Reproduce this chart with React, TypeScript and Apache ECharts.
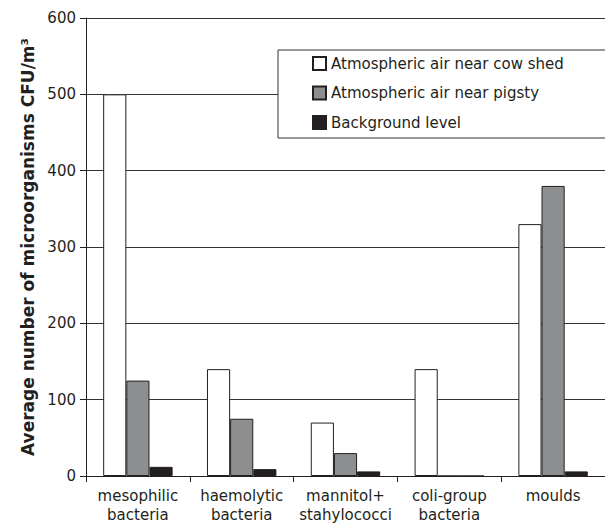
import React, { useEffect, useRef } from "react";
import * as echarts from "echarts";

const categories = [
  "mesophilic\nbacteria",
  "haemolytic\nbacteria",
  "mannitol+\nstahylococci",
  "coli-group\nbacteria",
  "moulds",
];
const cowShed = [500, 140, 70, 140, 330];
const pigsty = [125, 75, 30, 0, 380];
const background = [12, 9, 6, 0, 6];
const seriesNames = [
  "Atmospheric air near cow shed",
  "Atmospheric air near pigsty",
  "Background level",
];

export default function App() {
  const ref = useRef<HTMLDivElement>(null);
  useEffect(() => {
    const chart = echarts.init(ref.current!, undefined, { renderer: "svg" });
    const font = "'DejaVu Sans', sans-serif";
    const txt = "#231f20";
    const barBase = { type: "bar", barWidth: "22.3%", barGap: "0%" };
    chart.setOption({
      animation: false,
      textStyle: { fontFamily: font, color: txt },
      grid: { left: 86, right: -9, top: 18, bottom: 46 },
      legend: {
        orient: "vertical",
        left: 278,
        top: 50,
        padding: [6, 120, 8, 34],
        itemWidth: 13,
        itemHeight: 13,
        itemGap: 14.5,
        textStyle: { fontSize: 15, color: txt, fontFamily: font },
        backgroundColor: "#ffffff",
        borderColor: "#333333",
        borderWidth: 1,
        icon: "rect",
        z: 10,
      },
      xAxis: {
        type: "category",
        data: categories,
        axisLine: { lineStyle: { color: "#231f20", width: 1 } },
        axisTick: { show: true, length: 6, lineStyle: { color: "#231f20" } },
        axisLabel: { interval: 0, fontSize: 15, lineHeight: 19, margin: 10, color: txt, fontFamily: font },
      },
      yAxis: {
        type: "value",
        min: 0,
        max: 600,
        interval: 100,
        name: "Average number of microorganisms CFU/m³",
        nameLocation: "middle",
        nameRotate: 90,
        nameGap: 44,
        nameTextStyle: { fontSize: 17, fontWeight: "bold", color: txt, fontFamily: font },
        axisLine: { show: true, lineStyle: { color: "#231f20", width: 1 } },
        axisTick: { show: true, length: 6, lineStyle: { color: "#231f20" } },
        axisLabel: { fontSize: 15, margin: 10, color: txt, fontFamily: font },
        splitLine: { lineStyle: { color: "#333333", width: 1 } },
      },
      series: [
        {
          ...barBase,
          name: seriesNames[0],
          data: cowShed,
          itemStyle: { color: "#ffffff", borderColor: "#231f20", borderWidth: 1 },
        },
        {
          ...barBase,
          name: seriesNames[1],
          data: pigsty,
          itemStyle: { color: "#8d8e90", borderColor: "#231f20", borderWidth: 1 },
        },
        {
          ...barBase,
          name: seriesNames[2],
          data: background,
          itemStyle: { color: "#231f20", borderColor: "#231f20", borderWidth: 1 },
        },
      ],
    });
    return () => chart.dispose();
  }, []);
  return (
    <div
      ref={ref}
      style={{ position: "fixed", left: 0, top: 0, width: 605, height: 524, background: "#fff" }}
    />
  );
}
